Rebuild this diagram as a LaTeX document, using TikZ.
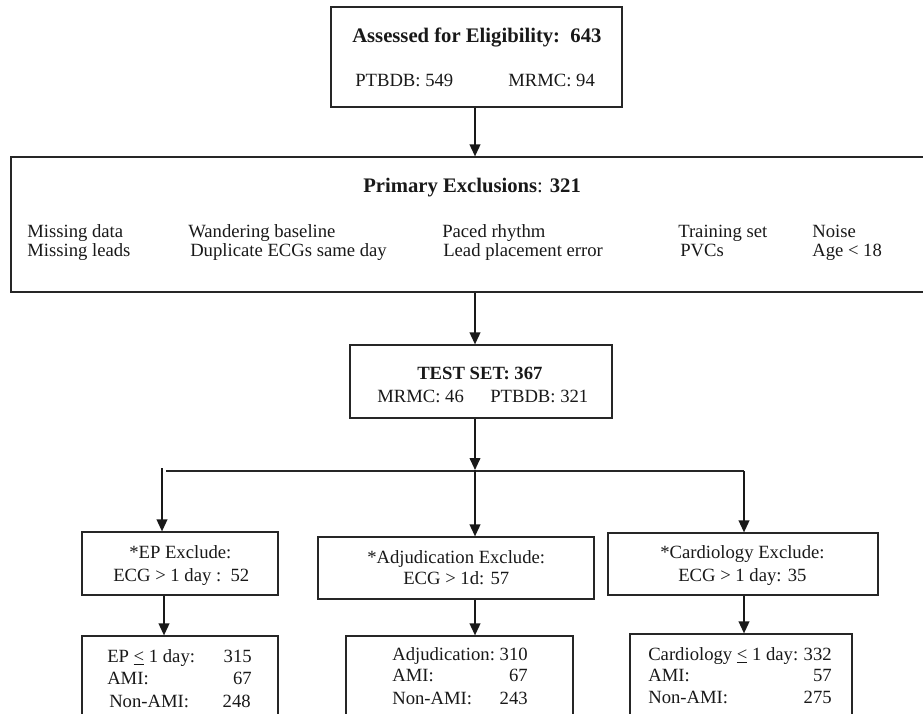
\documentclass[tikz,border=0pt]{standalone}
\usepackage{fontspec}
\setmainfont{Liberation Serif}
\usetikzlibrary{fit,arrows.meta}
\begin{document}
\begin{tikzpicture}[x=0.75pt,y=-0.75pt,
  box/.style={draw=black!85, line width=0.9pt, inner sep=0pt, fill=none},
  txt/.style={inner sep=0pt, anchor=base west, font=\fontsize{14}{16}\selectfont, text=black!90},
  rtxt/.style={txt, anchor=base east},
  ttl/.style={txt, font=\fontsize{15.5}{18}\selectfont\bfseries},
  arr/.style={draw=black!90, line width=1.3pt, -{Triangle[length=9pt,width=8pt]}},
  hline/.style={draw=black!85, line width=0.9pt}]
\useasboundingbox (0,0) rectangle (923,713);
\clip (0,0) rectangle (923,713);
\fill[white] (0,0) rectangle (923,713);
% boxes
\node[box, fit={(331,7) (622,107)}] (top) {};
\node[box, fit={(11,157) (930,292)}] (prim) {};
\node[box, fit={(350,345) (612,418)}] (test) {};
\node[box, fit={(82,532) (278,595)}] (epx) {};
\node[box, fit={(318,537) (594,599)}] (adjx) {};
\node[box, fit={(608,533) (878,595)}] (cdx) {};
\node[box, fit={(82,636) (278,740)}] (epb) {};
\node[box, fit={(346,636) (573,740)}] (adjb) {};
\node[box, fit={(630,634) (852,740)}] (cdb) {};
% texts top
\node[ttl] (t1) at (352,43) {Assessed for Eligibility:\ \ 643};
\node[txt] (t2) at (355,87) {PTBDB: 549};
\node[txt] (t3) at (508,87) {MRMC: 94};
% primary
\node[ttl] (p0) at (363,192) {Primary Exclusions{\mdseries:} 321};
\node[txt] (p1) at (27,237) {Missing data};
\node[txt] (p2) at (27,256) {Missing leads};
\node[txt] (p3) at (188,237) {Wandering baseline};
\node[txt] (p4) at (190,256) {Duplicate ECGs same day};
\node[txt] (p5) at (442,237) {Paced rhythm};
\node[txt] (p6) at (443,256) {Lead placement error};
\node[txt] (p7) at (678,237) {Training set};
\node[txt] (p8) at (680,256) {PVCs};
\node[txt] (p9) at (812,237) {Noise};
\node[txt] (p10) at (812,256) {Age < 18};
% test set
\node[txt, font=\fontsize{14}{16}\selectfont\bfseries] (s1) at (417,379) {TEST SET: 367};
\node[txt] (s2) at (377,402) {MRMC: 46};
\node[txt] (s3) at (490,402) {PTBDB: 321};
% exclude boxes
\node[txt] (e1) at (129,558) {*EP Exclude:};
\node[txt] (e2) at (113,581) {ECG > 1 day :\ \ 52};
\node[txt] (a1) at (367,563) {*Adjudication Exclude:};
\node[txt] (a2) at (403,584) {ECG > 1d: 57};
\node[txt] (c1) at (660,558) {*Cardiology Exclude:};
\node[txt] (c2) at (678,581) {ECG > 1 day: 35};
% bottom boxes
\node[txt] (eb1) at (107,662) {EP \underline{<} 1 day:};
\node[rtxt] (eb2) at (252,662) {315};
\node[txt] (eb3) at (107,684) {AMI:};
\node[rtxt] (eb4) at (252,684) {67};
\node[txt] (eb5) at (109,707) {Non-AMI:};
\node[rtxt] (eb6) at (251,707) {248};
\node[txt] (ab1) at (392,660) {Adjudication:};
\node[rtxt] (ab2) at (528,660) {310};
\node[txt] (ab3) at (392,681) {AMI:};
\node[rtxt] (ab4) at (528,681) {67};
\node[txt] (ab5) at (392,704) {Non-AMI:};
\node[rtxt] (ab6) at (528,704) {243};
\node[txt] (cb1) at (648,660) {Cardiology \underline{<} 1 day:};
\node[rtxt] (cb2) at (832,660) {332};
\node[txt] (cb3) at (648,681) {AMI:};
\node[rtxt] (cb4) at (832,681) {57};
\node[txt] (cb5) at (648,703) {Non-AMI:};
\node[rtxt] (cb6) at (832,703) {275};
% connectors
\coordinate (xm) at (475,0);
\coordinate (j) at (475,470);
\coordinate (hl) at (166,471);
\coordinate (hr) at (744,471);
\coordinate (la) at (162,468);
\coordinate (xl) at (164,0);
\draw[arr] (top.south -| xm) -- (prim.north -| xm);
\draw[arr] (prim.south -| xm) -- (test.north -| xm);
\draw[arr] (test.south -| xm) -- (j);
\draw[hline] (hl) -- (hr);
\draw[arr] (la) -- (epx.north -| la);
\draw[arr] (j) -- (adjx.north -| j);
\draw[arr] (hr) -- (cdx.north -| hr);
\draw[arr] (epx.south -| xl) -- (epb.north -| xl);
\draw[arr] (adjx.south -| xm) -- (adjb.north -| xm);
\draw[arr] (cdx.south -| hr) -- (cdb.north -| hr);
\end{tikzpicture}
\end{document}
